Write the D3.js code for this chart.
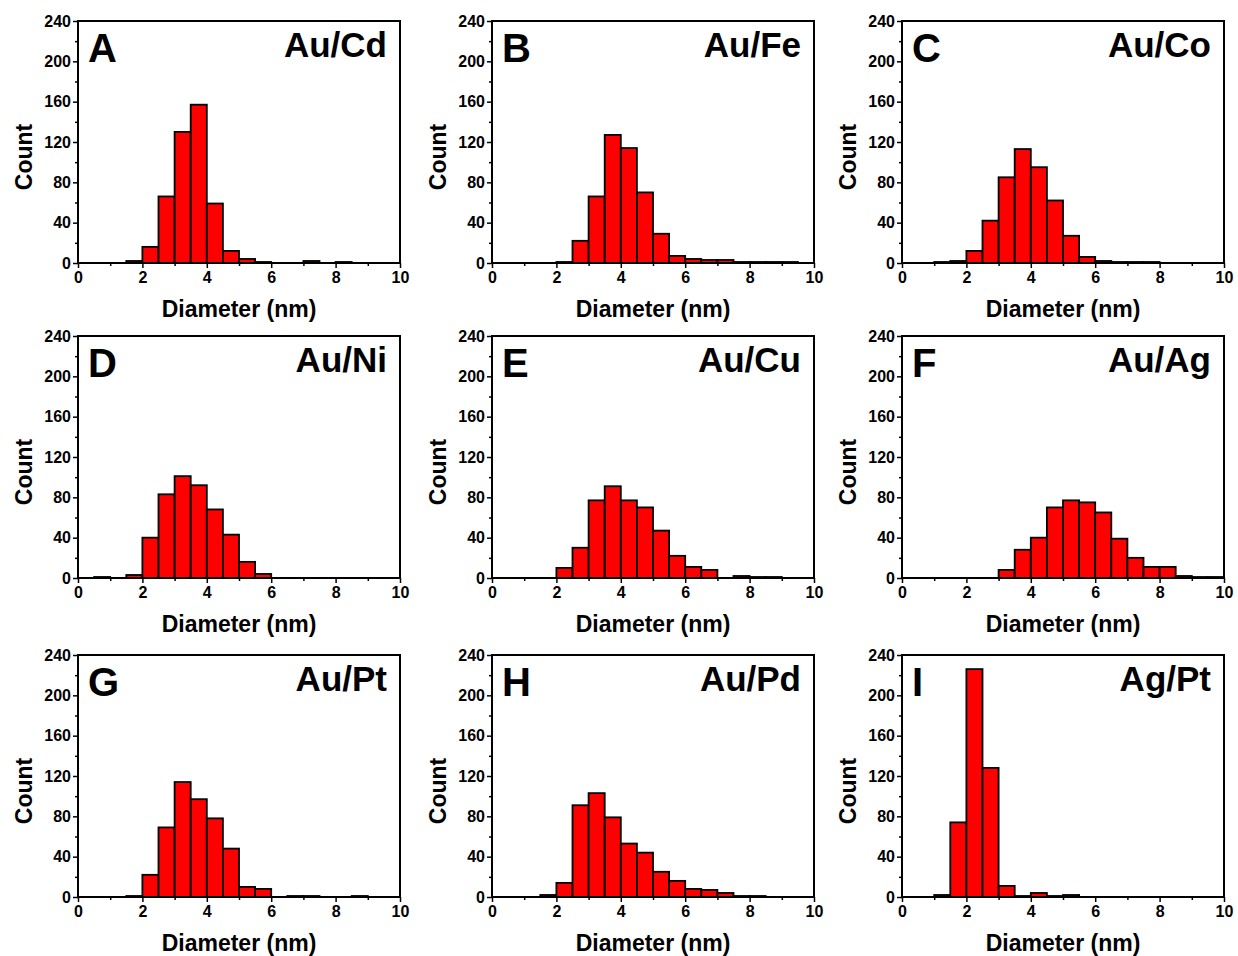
<!DOCTYPE html>
<html>
<head>
<meta charset="utf-8">
<script src="https://cdn.jsdelivr.net/npm/d3@7"></script>
<style>
  body { margin: 0; background: #fff; }
  svg text { font-family: "Liberation Sans", Arial, sans-serif; font-weight: bold; fill: #000; }
</style>
</head>
<body>
<svg id="fig" width="1238" height="956"></svg>
<script>
// Particle-size histograms: 20 bins of 0.5 nm from 0 to 10 nm
const binStarts = d3.range(0, 10, 0.5);
const binWidth = 0.5;

const panelLetters = ["A", "B", "C", "D", "E", "F", "G", "H", "I"];
const panelSamples = ["Au/Cd", "Au/Fe", "Au/Co", "Au/Ni", "Au/Cu", "Au/Ag", "Au/Pt", "Au/Pd", "Ag/Pt"];

const xTicks = [0, 2, 4, 6, 8, 10];
const xMinorTicks = [1, 3, 5, 7, 9];
const yTicks = [0, 40, 80, 120, 160, 200, 240];
const yMinorTicks = [20, 60, 100, 140, 180, 220];

const xTitle = "Diameter (nm)";
const yTitle = "Count";

// counts per bin (bin i covers [0.5*i, 0.5*i + 0.5) nm)
const countsAuCd = [0, 0, 0, 2, 16, 66, 130, 157, 59, 12, 4, 1, 0, 0, 2, 0, 1, 0, 0, 0];
const countsAuFe = [0, 0, 0, 0, 1, 22, 66, 127, 114, 70, 29, 7, 4, 3, 3, 1, 1, 1, 1, 0];
const countsAuCo = [0, 0, 1, 2, 12, 42, 85, 113, 95, 62, 27, 6, 2, 1, 1, 1, 0, 0, 0, 0];
const countsAuNi = [0, 1, 0, 3, 40, 83, 101, 92, 68, 43, 16, 4, 0, 0, 0, 0, 0, 0, 0, 0];
const countsAuCu = [0, 0, 0, 0, 10, 30, 77, 91, 77, 70, 47, 22, 11, 8, 0, 2, 1, 1, 0, 0];
const countsAuAg = [0, 0, 0, 0, 0, 0, 8, 28, 40, 70, 77, 75, 65, 39, 20, 11, 11, 2, 1, 1];
const countsAuPt = [0, 0, 0, 1, 22, 69, 114, 97, 78, 48, 10, 8, 0, 1, 1, 0, 0, 1, 0, 0];
const countsAuPd = [0, 0, 0, 2, 14, 91, 103, 79, 53, 44, 25, 16, 8, 7, 4, 1, 1, 0, 0, 0];
const countsAgPt = [0, 0, 2, 74, 226, 128, 11, 1, 4, 1, 2, 0, 0, 0, 0, 0, 0, 0, 0, 0];

const panelCounts = [countsAuCd, countsAuFe, countsAuCo, countsAuNi, countsAuCu,
                     countsAuAg, countsAuPt, countsAuPd, countsAgPt];

// grid layout of the 3x3 panels
const colLeft = [78, 492, 902];
const rowTop = [21, 336, 655];
const plotW = 322;
const plotH = 242;

const svg = d3.select("#fig");

panelCounts.forEach((counts, i) => {
  const col = i % 3, row = Math.floor(i / 3);
  const g = svg.append("g")
    .attr("transform", `translate(${colLeft[col]},${rowTop[row]})`);

  const x = d3.scaleLinear().domain([0, 10]).range([0, plotW]);
  const y = d3.scaleLinear().domain([0, 240]).range([plotH, 0]);

  const bins = binStarts.map((x0, k) => ({ x0, x1: x0 + binWidth, n: counts[k] }))
    .filter(d => d.n > 0);

  g.selectAll("rect.bar")
    .data(bins)
    .join("rect")
    .attr("class", "bar")
    .attr("x", d => x(d.x0))
    .attr("width", d => x(d.x1) - x(d.x0))
    .attr("y", d => y(d.n))
    .attr("height", d => y(0) - y(d.n))
    .attr("fill", "#ff0000")
    .attr("stroke", "#000")
    .attr("stroke-width", 1.8);

  // axes: major + minor ticks, pointing outward
  const xAxis = g.append("g").attr("transform", `translate(0,${plotH})`)
    .call(d3.axisBottom(x).tickValues(xTicks).tickSize(5).tickPadding(3).tickFormat(d3.format("d")));
  const xMinor = g.append("g").attr("transform", `translate(0,${plotH})`)
    .call(d3.axisBottom(x).tickValues(xMinorTicks).tickSize(3).tickFormat(""));
  const yAxis = g.append("g")
    .call(d3.axisLeft(y).tickValues(yTicks).tickSize(5).tickPadding(2).tickFormat(d3.format("d")));
  const yMinor = g.append("g")
    .call(d3.axisLeft(y).tickValues(yMinorTicks).tickSize(3).tickFormat(""));

  [xAxis, xMinor, yAxis, yMinor].forEach(a => {
    a.select(".domain").remove();
    a.selectAll(".tick line").attr("stroke", "#000").attr("stroke-width", 1.5);
    a.selectAll(".tick text").style("font-size", "16px").attr("fill", "#000");
  });
  xAxis.selectAll(".tick text").attr("dy", "0.72em");

  // plot frame
  g.append("rect")
    .attr("width", plotW).attr("height", plotH)
    .attr("fill", "none").attr("stroke", "#000").attr("stroke-width", 2);

  // axis titles
  g.append("text")
    .attr("x", plotW / 2).attr("y", plotH + 54)
    .attr("text-anchor", "middle")
    .style("font-size", "23px")
    .text(xTitle);
  g.append("text")
    .attr("transform", `translate(-46,${plotH / 2 + 15}) rotate(-90)`)
    .attr("text-anchor", "middle")
    .style("font-size", "23px")
    .text(yTitle);

  // panel letter and sample name
  g.append("text")
    .attr("x", 10).attr("y", 41)
    .style("font-size", "40px")
    .text(panelLetters[i]);
  g.append("text")
    .attr("x", plotW - 13).attr("y", 36)
    .attr("text-anchor", "end")
    .style("font-size", "35px")
    .text(panelSamples[i]);
});
</script>
</body>
</html>
